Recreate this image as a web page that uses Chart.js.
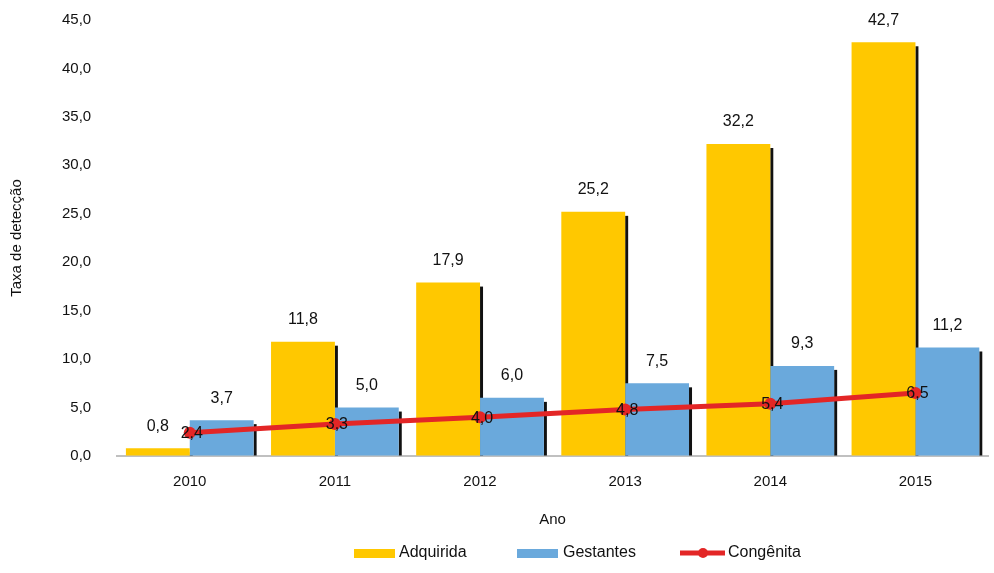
<!DOCTYPE html>
<html>
<head>
<meta charset="utf-8">
<script src="https://cdn.jsdelivr.net/npm/chart.js@4/dist/chart.umd.min.js"></script>
<style>
  html, body { margin: 0; padding: 0; background: #fff; }
  #wrap { width: 994px; height: 573px; position: relative; }
</style>
</head>
<body>
<div id="wrap"><canvas id="grafico"></canvas></div>
<script>
// dados do gráfico
const anos = ["2010", "2011", "2012", "2013", "2014", "2015"];
const adquirida = [0.8, 11.8, 17.9, 25.2, 32.2, 42.7];
const gestantes = [3.7, 5.0, 6.0, 7.5, 9.3, 11.2];
const congenita = [2.4, 3.3, 4.0, 4.8, 5.4, 6.5];
const ticksY = [0, 5, 10, 15, 20, 25, 30, 35, 40, 45];

const AMARELO = "#FFC800";
const AZUL = "#6AA9DC";
const VERMELHO = "#E32626";
const FONTE = "'Liberation Sans', Arial, sans-serif";

const fmt = (v) => v.toFixed(1).replace(".", ",");

// sombra preta à direita das barras (antes de desenhar as séries)
const sombra = {
  id: "sombra",
  beforeDatasetsDraw(chart) {
    const ctx = chart.ctx;
    ctx.save();
    ctx.fillStyle = "#111";
    chart.data.datasets.forEach((ds, i) => {
      const meta = chart.getDatasetMeta(i);
      if (meta.type !== "bar") return;
      meta.data.forEach((bar) => {
        const x = bar.x + bar.width / 2;
        const h = bar.base - bar.y;
        if (h > 6) ctx.fillRect(x, bar.y + 4, 3, h - 4);
      });
    });
    ctx.restore();
  },
};

// rótulos de valores
const rotulos = {
  id: "rotulos",
  afterDatasetsDraw(chart) {
    const ctx = chart.ctx;
    ctx.save();
    ctx.font = "16px " + FONTE;
    ctx.fillStyle = "#111";
    ctx.textAlign = "center";
    ctx.textBaseline = "middle";
    chart.data.datasets.forEach((ds, i) => {
      const meta = chart.getDatasetMeta(i);
      meta.data.forEach((el, j) => {
        const txt = fmt(ds.data[j]);
        if (meta.type === "bar") {
          ctx.fillText(txt, el.x, el.y - 22);
        } else {
          ctx.fillText(txt, el.x + 2, el.y + 1);
        }
      });
    });
    ctx.restore();
  },
};

// legenda desenhada à mão
const legenda = {
  id: "legenda",
  afterDraw(chart) {
    const ctx = chart.ctx;
    const y = 553;
    ctx.save();
    ctx.font = "16px " + FONTE;
    ctx.textBaseline = "middle";
    ctx.fillStyle = AMARELO;
    ctx.fillRect(354, y - 4, 41, 9);
    ctx.fillStyle = "#111";
    ctx.fillText("Adquirida", 399, y);
    ctx.fillStyle = AZUL;
    ctx.fillRect(517, y - 4, 41, 9);
    ctx.fillStyle = "#111";
    ctx.fillText("Gestantes", 563, y);
    ctx.strokeStyle = VERMELHO;
    ctx.lineWidth = 5;
    ctx.beginPath();
    ctx.moveTo(680, y);
    ctx.lineTo(725, y);
    ctx.stroke();
    ctx.fillStyle = VERMELHO;
    ctx.beginPath();
    ctx.arc(703, y, 5, 0, Math.PI * 2);
    ctx.fill();
    ctx.fillStyle = "#111";
    ctx.fillText("Congênita", 728, y);
    ctx.restore();
  },
};

new Chart(document.getElementById("grafico"), {
  data: {
    labels: anos,
    datasets: [
      {
        type: "bar",
        label: "Adquirida",
        data: adquirida,
        backgroundColor: AMARELO,
        barPercentage: 1,
        categoryPercentage: 0.88,
        order: 1,
      },
      {
        type: "bar",
        label: "Gestantes",
        data: gestantes,
        backgroundColor: AZUL,
        barPercentage: 1,
        categoryPercentage: 0.88,
        order: 1,
      },
      {
        type: "line",
        label: "Congênita",
        data: congenita,
        borderColor: VERMELHO,
        backgroundColor: VERMELHO,
        borderWidth: 5,
        pointRadius: 6,
        pointBorderWidth: 0,
        order: 0,
      },
    ],
  },
  options: {
    responsive: true,
    maintainAspectRatio: false,
    animation: false,
    layout: { padding: { top: 20, right: 3, bottom: 44, left: 8 } },
    plugins: {
      legend: { display: false },
      tooltip: { enabled: false },
    },
    scales: {
      x: {
        grid: { display: false },
        border: { display: true, color: "#C0C0C0", width: 2 },
        ticks: { color: "#111", padding: 9, font: { family: FONTE, size: 15 } },
        title: {
          display: true,
          text: "Ano",
          color: "#111",
          padding: { top: 11, bottom: 0 },
          font: { family: FONTE, size: 15 },
        },
      },
      y: {
        min: 0,
        max: 45,
        afterBuildTicks: (axis) => {
          axis.ticks = ticksY.map((v) => ({ value: v }));
        },
        afterFit: (axis) => {
          axis.width += 18;
        },
        grid: {
          display: true,
          drawOnChartArea: false,
          drawTicks: true,
          tickLength: 18,
          color: "rgba(0,0,0,0)",
        },
        border: { display: false },
        ticks: {
          color: "#111",
          padding: 8,
          font: { family: FONTE, size: 15 },
          callback: (v) => fmt(v),
        },
        title: {
          display: true,
          text: "Taxa de detecção",
          color: "#111",
          padding: { top: 0, bottom: 10 },
          font: { family: FONTE, size: 15 },
        },
      },
    },
  },
  plugins: [sombra, rotulos, legenda],
});
</script>
</body>
</html>
